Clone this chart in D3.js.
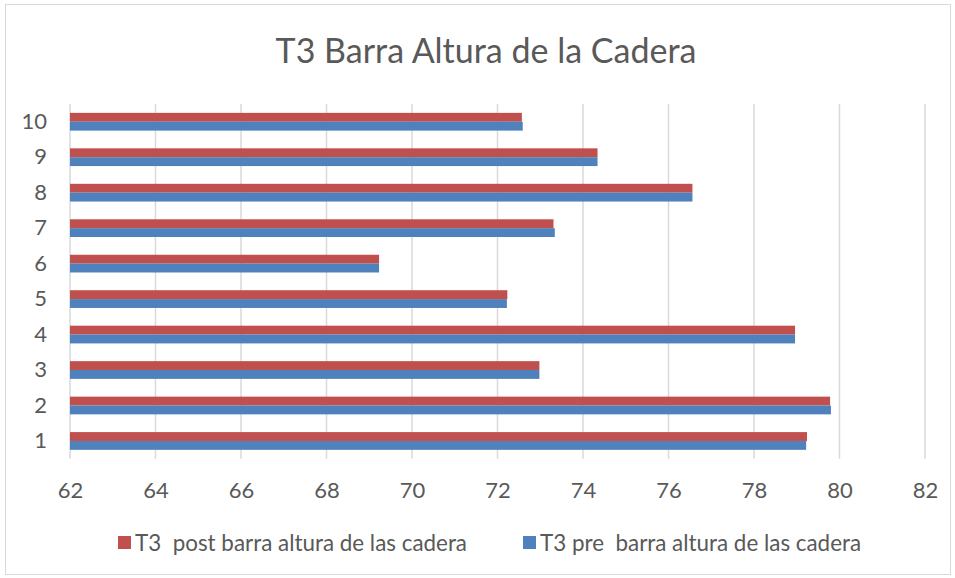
<!DOCTYPE html>
<html>
<head>
<meta charset="utf-8">
<script src="https://cdn.jsdelivr.net/npm/d3@7"></script>
<style>
  html, body { margin: 0; padding: 0; background: #fff; }
  text { font-family: Lato, "Open Sans", sans-serif; fill: #595959; }
</style>
</head>
<body>
<div id="chart"></div>
<script>
// Config
const width = 955;
const height = 578;

// Data
const categories = ["1", "2", "3", "4", "5", "6", "7", "8", "9", "10"];
const postValues = [79.24, 79.78, 72.98, 78.96, 72.23, 69.23, 73.31, 76.56, 74.34, 72.57];
const preValues  = [79.22, 79.80, 72.98, 78.96, 72.22, 69.23, 73.34, 76.56, 74.34, 72.59];
const xTicks = [62, 64, 66, 68, 70, 72, 74, 76, 78, 80, 82];
const seriesNames = ["T3  post barra altura de las cadera", "T3 pre  barra altura de las cadera"];
const seriesKeys = ["post", "pre"];
const colors = { post: "#C0504D", pre: "#4F81BD" };

const margin = { top: 104, right: 30, bottom: 120, left: 70 };

const svg = d3.select("#chart")
    .append("svg")
    .attr("width", width)
    .attr("height", height);

// Chart border
svg.append("rect")
    .attr("x", 5.5).attr("y", 4.5)
    .attr("width", width - 10).attr("height", height - 8)
    .attr("fill", "#fff")
    .attr("stroke", "#d9d9d9")
    .attr("stroke-width", 1);

// Title
svg.append("text")
    .attr("x", 486)
    .attr("y", 63)
    .attr("text-anchor", "middle")
    .style("font-size", "34px")
    .text("T3 Barra Altura de la Cadera");

// Scales
const x = d3.scaleLinear()
    .domain([62, 82])
    .range([margin.left, 925]);

const y = d3.scaleBand()
    .domain(categories.slice().reverse())
    .range([margin.top, 458.7])
    .paddingInner(0.5)
    .paddingOuter(0.25);

const ySub = d3.scaleBand()
    .domain(seriesKeys)
    .range([0, y.bandwidth()]);

// Gridlines
svg.append("g")
    .selectAll("line")
    .data(xTicks)
    .join("line")
    .attr("x1", d => x(d)).attr("x2", d => x(d))
    .attr("y1", margin.top).attr("y2", 458.7)
    .attr("stroke", "#d9d9d9")
    .attr("stroke-width", 1.5);

// Bars
const rows = categories.map((c, i) => ({ cat: c, post: postValues[i], pre: preValues[i] }));

const groups = svg.append("g")
    .selectAll("g")
    .data(rows)
    .join("g")
    .attr("transform", d => `translate(0,${y(d.cat)})`);

groups.selectAll("rect")
    .data(d => seriesKeys.map(k => ({ key: k, value: d[k] })))
    .join("rect")
    .attr("x", x(62))
    .attr("y", d => ySub(d.key))
    .attr("width", d => x(d.value) - x(62))
    .attr("height", ySub.bandwidth())
    .attr("fill", d => colors[d.key]);

// X axis labels
const xAxis = d3.axisBottom(x).tickValues(xTicks).tickSize(0).tickPadding(0);
const xg = svg.append("g")
    .attr("transform", "translate(0,458.7)")
    .call(xAxis);
xg.select(".domain").remove();
xg.selectAll("text")
    .attr("y", 39)
    .attr("dy", "0")
    .style("font-size", "22px")
    .style("fill", "#595959");

// Y axis labels
const yAxis = d3.axisLeft(y).tickSize(0).tickPadding(23);
const yg = svg.append("g")
    .attr("transform", `translate(${margin.left},0)`)
    .call(yAxis);
yg.select(".domain").remove();
yg.selectAll("text")
    .style("font-size", "22px")
    .style("fill", "#595959");

// Legend
const legendX = [118, 523];
const legend = svg.append("g")
    .selectAll("g")
    .data(seriesKeys)
    .join("g")
    .attr("transform", (d, i) => `translate(${legendX[i]},543)`);

legend.append("rect")
    .attr("x", 0).attr("y", -7)
    .attr("width", 13).attr("height", 13)
    .attr("fill", d => colors[d]);

legend.append("text")
    .attr("x", 17)
    .attr("y", 0)
    .attr("dy", "0.35em")
    .style("font-size", "22.4px")
    .style("white-space", "pre")
    .text((d, i) => seriesNames[i]);
</script>
</body>
</html>
